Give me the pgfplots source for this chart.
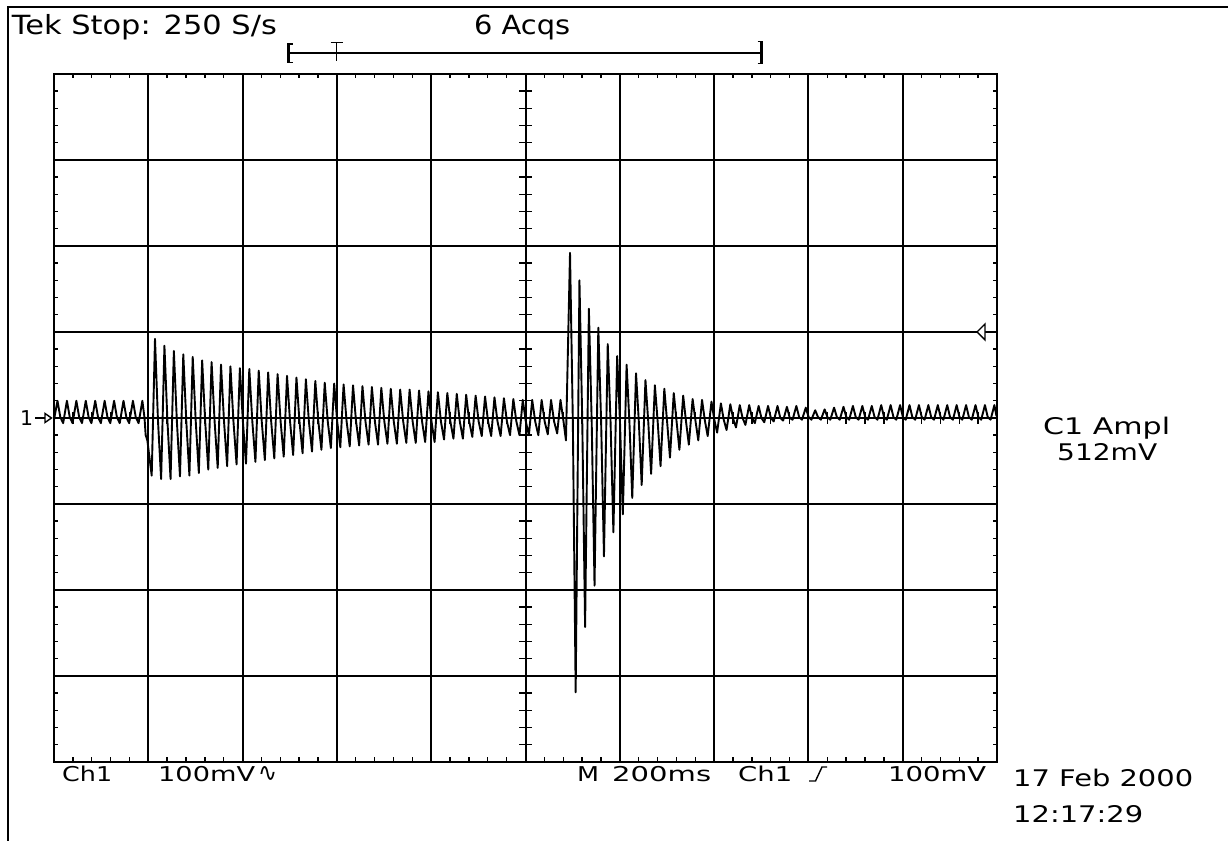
\documentclass[border=0pt]{standalone}
\usepackage{fontspec}
\setmainfont{DejaVu Sans}
\usepackage{graphicx}
\usepackage{pgfplots}
\pgfplotsset{compat=1.18}
\newcommand{\lbl}[5]{\node[anchor=base west,inner sep=0pt] at (#1,#2) {\fontsize{#3}{#3}\selectfont\resizebox{#4bp}{\height}{#5}};}
\begin{document}
\begin{tikzpicture}[x=1bp,y=1bp]
\useasboundingbox (0,0) rectangle (1228,841);
\fill[white] (0,0) rectangle (1228,841);
% outer frame (top and left)
\draw[line width=2bp] (8.3,0) -- (8.3,834.3) -- (1228,834.3);
\begin{axis}[
  at={(54bp,79bp)}, anchor=south west,
  width=943bp, height=688bp, scale only axis,
  xmin=0, xmax=10, ymin=-4, ymax=4,
  xtick={0,...,10}, ytick={-4,...,4},
  minor x tick num=4, minor y tick num=4,
  xticklabels={}, yticklabels={},
  tick align=inside,
  major tick length=0pt, minor tick length=4.5bp,
  every tick/.append style={black, line width=1.4bp},
  grid=major,
  major grid style={black, line width=2bp},
  axis line style={black, line width=2.1bp},
  clip=false,
]
\addplot[black, line width=1.9bp, line join=round] coordinates {
(0,-0.02)
(0.037,0.20) (0.067,0.01) (0.097,-0.06)
(0.137,0.20) (0.167,0.01) (0.197,-0.06)
(0.237,0.20) (0.267,0.01) (0.297,-0.06)
(0.337,0.20) (0.367,0.01) (0.397,-0.06)
(0.437,0.20) (0.467,0.01) (0.497,-0.06)
(0.537,0.20) (0.567,0.01) (0.597,-0.06)
(0.637,0.20) (0.667,0.01) (0.697,-0.06)
(0.737,0.20) (0.767,0.01) (0.797,-0.06)
(0.837,0.20) (0.867,0.01) (0.897,-0.06)
(0.937,0.20) (0.960,0.00) (0.972,-0.20) (0.990,-0.26)
(1.036,-0.67) (1.071,0.92) (1.103,-0.04)
(1.136,-0.71) (1.171,0.84) (1.203,-0.04)
(1.236,-0.71) (1.271,0.78) (1.303,-0.04)
(1.336,-0.68) (1.371,0.74) (1.403,-0.04)
(1.436,-0.67) (1.471,0.71) (1.503,-0.04)
(1.536,-0.64) (1.571,0.67) (1.603,-0.04)
(1.636,-0.60) (1.671,0.65) (1.703,-0.04)
(1.736,-0.58) (1.771,0.62) (1.803,-0.04)
(1.836,-0.56) (1.871,0.60) (1.903,-0.04)
(1.936,-0.54) (1.971,0.58) (2.003,-0.04)
(2.036,-0.53) (2.071,0.57) (2.103,-0.04)
(2.136,-0.51) (2.171,0.55) (2.203,-0.04)
(2.236,-0.49) (2.271,0.53) (2.303,-0.04)
(2.336,-0.47) (2.371,0.51) (2.403,-0.04)
(2.436,-0.45) (2.471,0.49) (2.503,-0.04)
(2.536,-0.43) (2.571,0.47) (2.603,-0.04)
(2.636,-0.41) (2.671,0.45) (2.703,-0.04)
(2.736,-0.39) (2.771,0.43) (2.803,-0.04)
(2.836,-0.37) (2.871,0.41) (2.903,-0.04)
(2.936,-0.35) (2.971,0.40) (3.003,-0.04)
(3.036,-0.34) (3.071,0.39) (3.103,-0.04)
(3.136,-0.33) (3.171,0.38) (3.203,-0.04)
(3.236,-0.32) (3.271,0.37) (3.303,-0.04)
(3.336,-0.31) (3.371,0.36) (3.403,-0.04)
(3.436,-0.31) (3.471,0.35) (3.503,-0.04)
(3.536,-0.30) (3.571,0.34) (3.603,-0.04)
(3.636,-0.30) (3.671,0.33) (3.703,-0.04)
(3.736,-0.29) (3.771,0.33) (3.803,-0.04)
(3.836,-0.29) (3.871,0.32) (3.903,-0.04)
(3.936,-0.28) (3.971,0.31) (4.003,-0.04)
(4.036,-0.28) (4.071,0.30) (4.103,-0.04)
(4.136,-0.25) (4.171,0.29) (4.203,-0.04)
(4.236,-0.24) (4.271,0.28) (4.303,-0.04)
(4.336,-0.24) (4.371,0.27) (4.403,-0.04)
(4.436,-0.22) (4.471,0.26) (4.503,-0.04)
(4.536,-0.21) (4.571,0.25) (4.603,-0.04)
(4.636,-0.21) (4.671,0.24) (4.703,-0.04)
(4.736,-0.21) (4.771,0.23) (4.803,-0.04)
(4.836,-0.20) (4.871,0.22) (4.903,-0.04)
(4.936,-0.20) (4.971,0.21) (5.003,-0.04)
(5.036,-0.20) (5.071,0.21) (5.103,-0.04)
(5.136,-0.20) (5.171,0.21) (5.203,-0.04)
(5.236,-0.19) (5.271,0.21) (5.303,-0.04)
(5.336,-0.18) (5.371,0.21) (5.403,-0.04)
(5.429,-0.26) (5.472,1.92) (5.502,-0.05)
(5.532,-3.19) (5.572,1.60) (5.602,-0.05)
(5.632,-2.43) (5.672,1.27) (5.702,-0.05)
(5.732,-1.95) (5.772,1.05) (5.802,-0.05)
(5.832,-1.61) (5.872,0.86) (5.902,-0.05)
(5.932,-1.33) (5.972,0.72) (6.002,-0.05)
(6.032,-1.12) (6.072,0.62) (6.102,-0.05)
(6.132,-0.93) (6.172,0.52) (6.202,-0.05)
(6.232,-0.78) (6.272,0.44) (6.302,-0.05)
(6.332,-0.65) (6.372,0.38) (6.402,-0.05)
(6.432,-0.56) (6.472,0.34) (6.502,-0.05)
(6.532,-0.46) (6.572,0.29) (6.602,-0.04)
(6.632,-0.37) (6.672,0.26) (6.702,-0.04)
(6.732,-0.31) (6.772,0.22) (6.802,-0.03)
(6.832,-0.26) (6.872,0.21) (6.902,-0.03)
(6.932,-0.21) (6.972,0.19) (7.002,-0.02)
(7.032,-0.17) (7.072,0.17) (7.102,-0.02)
(7.132,-0.14) (7.172,0.16) (7.202,-0.01)
(7.232,-0.11) (7.272,0.15) (7.302,0.00)
(7.332,-0.08) (7.372,0.15) (7.402,0.00)
(7.432,-0.06) (7.472,0.14) (7.502,0.00)
(7.532,-0.05) (7.572,0.14) (7.602,0.00)
(7.632,-0.04) (7.672,0.14) (7.702,0.00)
(7.732,-0.03) (7.772,0.13) (7.802,0.00)
(7.832,-0.02) (7.872,0.14) (7.902,0.01)
(7.932,-0.02) (7.972,0.12) (8.002,0.01)
(8.032,-0.02) (8.072,0.09) (8.102,0.01)
(8.132,-0.02) (8.172,0.10) (8.202,0.01)
(8.232,-0.02) (8.272,0.12) (8.302,0.01)
(8.332,-0.02) (8.372,0.13) (8.402,0.01)
(8.432,-0.02) (8.472,0.14) (8.502,0.01)
(8.532,-0.02) (8.572,0.14) (8.602,0.01)
(8.632,-0.02) (8.672,0.14) (8.702,0.01)
(8.732,-0.02) (8.772,0.15) (8.802,0.01)
(8.832,-0.02) (8.872,0.15) (8.902,0.01)
(8.932,-0.02) (8.972,0.15) (9.002,0.01)
(9.032,-0.02) (9.072,0.15) (9.102,0.01)
(9.132,-0.02) (9.172,0.15) (9.202,0.01)
(9.232,-0.02) (9.272,0.15) (9.302,0.01)
(9.332,-0.02) (9.372,0.15) (9.402,0.01)
(9.432,-0.02) (9.472,0.15) (9.502,0.01)
(9.532,-0.02) (9.572,0.15) (9.602,0.01)
(9.632,-0.02) (9.672,0.15) (9.702,0.01)
(9.732,-0.02) (9.772,0.15) (9.802,0.01)
(9.832,-0.02) (9.872,0.15) (9.902,0.01)
(9.932,-0.02) (9.972,0.15) (9.995,0.02)
};
\end{axis}
% centre cross ticks
\foreach \k in {1,...,49} \draw[line width=1.4bp] ({54+\k*18.86},417) -- ++(0,12);
\foreach \k in {1,...,39} \draw[line width=1.4bp] (519,{79+\k*17.2}) -- ++(13,0);
% channel marker at left
\draw[line width=1.4bp] (35,423) -- (45,423);
\draw[line width=1.4bp] (45,427.5) -- (45,418.5) -- (51.5,423) -- cycle;
\node[anchor=base west,inner sep=0pt] at (20,415) {\fontsize{20.5}{20.5}\selectfont 1};
% trigger level marker at right
\draw[line width=1.4bp, fill=white] (985,517) -- (985,501) -- (977,509) -- cycle;
% trigger position bracket
\draw[line width=1.4bp] (289,788) -- (761,788);
\draw[line width=3bp] (288.5,778) -- (288.5,797);
\draw[line width=1.5bp] (287,797) -- (292.5,797) (287,778.5) -- (292.5,778.5);
\draw[line width=1.5bp] (336.7,780) -- (336.7,799) (330.5,798.5) -- (343,798.5);
\draw[line width=3bp] (761.5,777) -- (761.5,800);
\draw[line width=1.5bp] (757.5,799.5) -- (763,799.5) (757.5,777.5) -- (763,777.5);
% top texts
\lbl{11.7}{806}{26.5}{265}{Tek Stop: 250 S/s}
\lbl{474}{806}{26.5}{96}{6 Acqs}
% bottom texts
\lbl{62}{59.3}{20.5}{50}{Ch1}
\lbl{158}{59.3}{20.5}{97}{100mV}
\node[anchor=base west,inner sep=0pt] at (258,59.3) {\fontsize{20.5}{20.5}\selectfont\resizebox{19bp}{15bp}{∿}};
\lbl{577}{59.3}{20.5}{22}{M}
\lbl{612}{59.3}{20.5}{99}{200ms}
\lbl{738}{59.3}{20.5}{54}{Ch1}
\draw[line width=1.4bp] (809,60) -- (815.5,60) -- (822,74) -- (827,74);
\lbl{888}{59.3}{20.5}{98}{100mV}
% right texts
\lbl{1043}{406}{23}{127}{C1 Ampl}
\lbl{1057}{380}{23}{100}{512mV}
\lbl{1013}{54}{23}{180}{17 Feb 2000}
\lbl{1013}{18}{23}{130}{12:17:29}
\end{tikzpicture}
\end{document}
